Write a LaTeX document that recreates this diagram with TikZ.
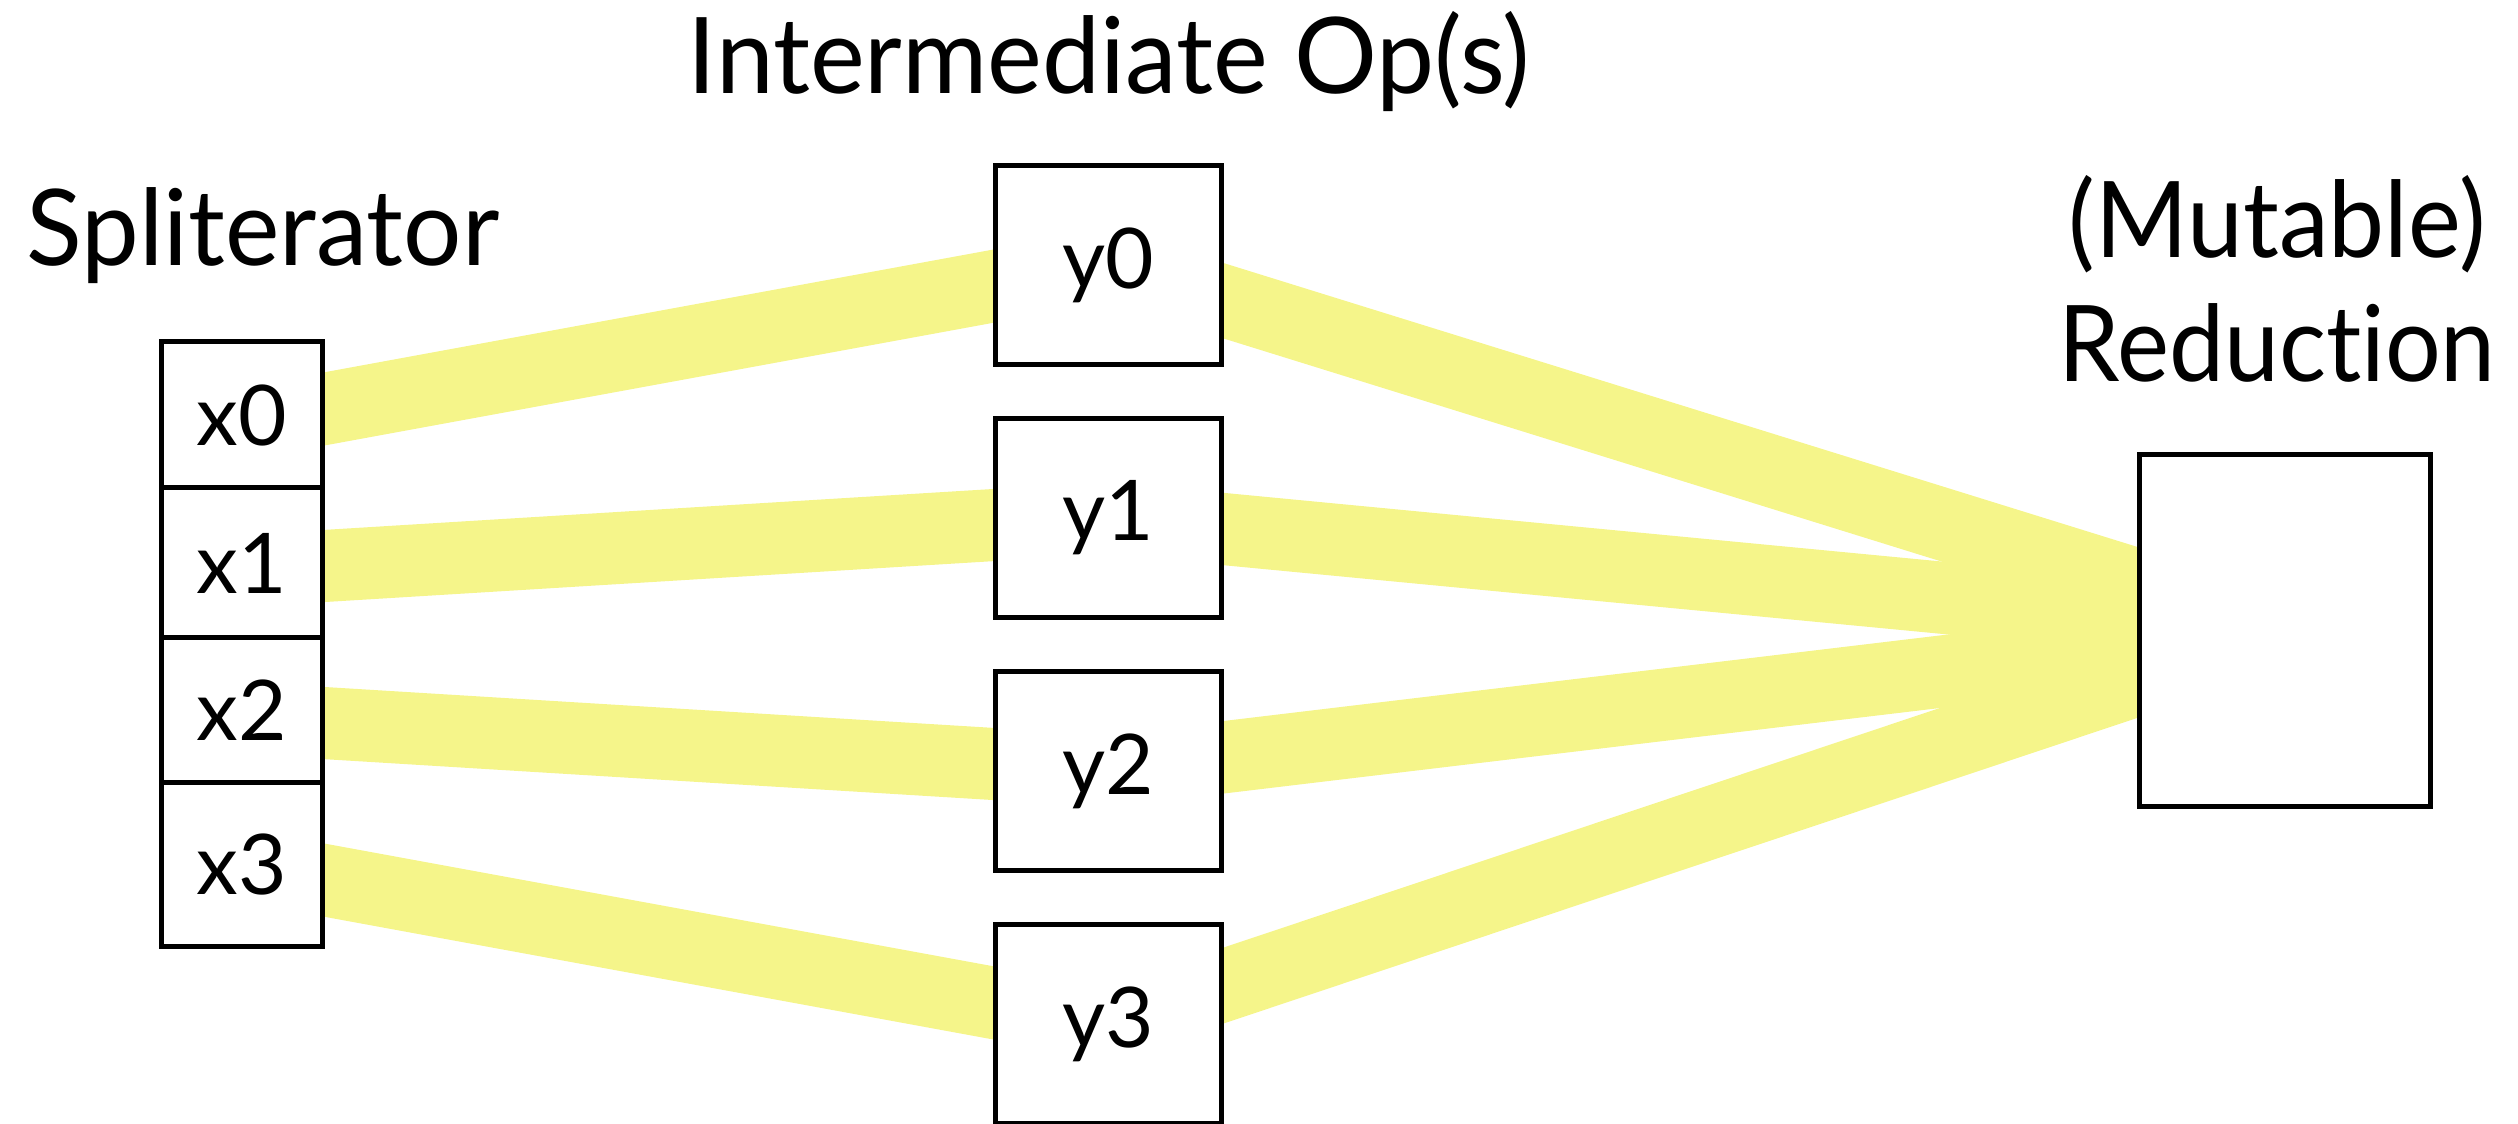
\documentclass[tikz,border=0pt]{standalone}
\usepackage{fontspec}
\setmainfont{Lato}[Ligatures=NoCommon]
\usetikzlibrary{backgrounds}
\definecolor{bandyellow}{RGB}{245,245,138}
\begin{document}
\begin{tikzpicture}[x=0.01cm,y=-0.01cm,
  flow/.style={draw=bandyellow,line width=0.72cm},
  cell/.style={draw=black,line width=0.05cm,fill=white,inner sep=0pt,outer sep=0pt,
    minimum width=1.61cm,font=\fontsize{23.8}{28}\selectfont},
  opbox/.style={cell,minimum width=2.26cm,minimum height=1.99cm},
  title/.style={inner sep=0pt,outer sep=0pt,font=\fontsize{30.1}{36}\selectfont}]
\clip (0,0) rectangle (2518,1123);

% titles, narrowed slightly to the set widths
\node[title,anchor=base west] (tsplit) at (27,265) {\scalebox{0.973}[1]{Spliterator}};
\node[title,anchor=base] (tinter) at (1109,93) {\scalebox{0.979}[1]{Intermediate Op(s)}};
\node[title,anchor=base] (tmut) at (2277,257) {\scalebox{0.945}[1]{(Mutable)}};
\node[title,anchor=base] (tred) at (2277,381) {\scalebox{0.93}[1]{Reduction}};

% spliterator cells
\node[cell,minimum height=1.46cm] (x0) at (242,415) {x0};
\node[cell,minimum height=1.50cm] (x1) at (242,563) {x1};
\node[cell,minimum height=1.45cm] (x2) at (242,710.5) {x2};
\node[cell,minimum height=1.63cm] (x3) at (242,864.5) {x3};

% intermediate operations
\node[opbox] (y0) at (1108.5,265) {y0};
\node[opbox] (y1) at (1108.5,518) {y1};
\node[opbox] (y2) at (1108.5,771) {y2};
\node[opbox] (y3) at (1108.5,1024) {y3};

% reduction container
\node[cell,minimum width=2.91cm,minimum height=3.52cm] (red) at (2285,630.5) {};

% band entry points inside the cells
\coordinate (s0) at (242,424);
\coordinate (s1) at (242,571);
\coordinate (s2) at (242,718);
\coordinate (s3) at (242,865);

\begin{scope}[on background layer]
  \foreach \i in {0,1,2,3} {
    \draw[flow] (s\i) -- (y\i.center);
    \draw[flow] (y\i.center) -- (red.center);
  }
\end{scope}
\end{tikzpicture}
\end{document}
